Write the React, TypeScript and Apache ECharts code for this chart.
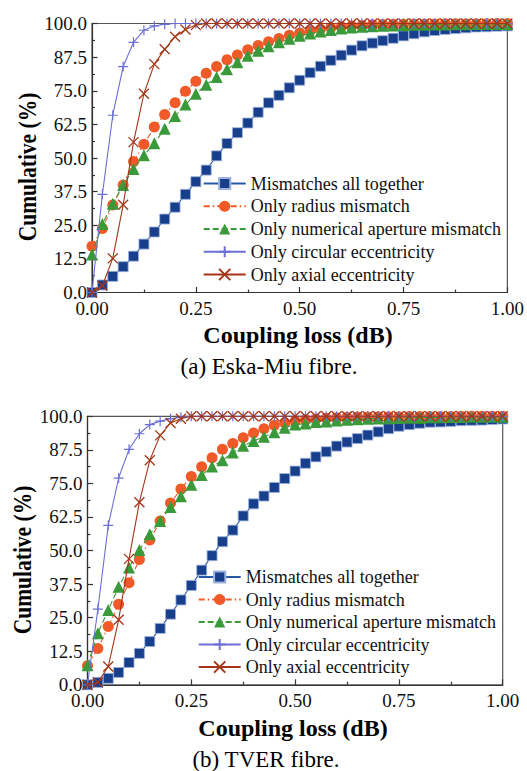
import React, { useEffect, useRef } from "react";
import * as echarts from "echarts";

const XS = [0, 0.025, 0.05, 0.075, 0.1, 0.125, 0.15, 0.175, 0.2, 0.225, 0.25, 0.275, 0.3, 0.325, 0.35, 0.375, 0.4, 0.425, 0.45, 0.475, 0.5, 0.525, 0.55, 0.575, 0.6, 0.625, 0.65, 0.675, 0.7, 0.725, 0.75, 0.775, 0.8, 0.825, 0.85, 0.875, 0.9, 0.925, 0.95, 0.975, 1.0];

const SERIES_NAMES = [
  "Mismatches all together",
  "Only radius mismatch",
  "Only numerical aperture mismatch",
  "Only circular eccentricity",
  "Only axial eccentricity",
];

const X_TICKS = [0, 0.25, 0.5, 0.75, 1.0];
const Y_TICKS = [0, 12.5, 25, 37.5, 50, 62.5, 75, 87.5, 100];

// (a) Eska-Miu fibre
const A_ALL = [0, 2.8, 6.0, 9.6, 13.5, 18.0, 22.5, 27.3, 31.7, 36.5, 41.2, 45.5, 50.8, 55.4, 59.4, 63.0, 67.0, 70.5, 73.3, 76.1, 78.9, 81.7, 84.1, 86.3, 88.2, 90.1, 91.7, 92.7, 93.6, 94.5, 95.4, 96.2, 96.9, 97.4, 97.8, 98.1, 98.4, 98.7, 98.8, 99.0, 99.1];
const A_RADIUS = [17.2, 23.8, 32.5, 40.0, 48.7, 55.1, 61.5, 66.2, 70.5, 74.8, 78.5, 81.5, 84.0, 86.5, 88.3, 90.2, 91.8, 93.2, 94.4, 95.6, 96.5, 97.3, 97.9, 98.4, 98.8, 99.1, 99.3, 99.5, 99.6, 99.7, 99.7, 99.8, 99.8, 99.8, 99.9, 99.9, 99.9, 99.9, 99.9, 100, 100];
const A_NA = [14.1, 25.5, 33.0, 40.0, 45.9, 51.0, 55.5, 60.9, 65.6, 69.9, 73.9, 77.2, 80.1, 83.0, 85.6, 88.0, 89.9, 91.5, 93.0, 94.3, 95.4, 96.3, 97.0, 97.6, 98.1, 98.5, 98.8, 99.0, 99.2, 99.3, 99.4, 99.5, 99.5, 99.6, 99.6, 99.7, 99.7, 99.8, 99.8, 99.8, 99.8];
const A_CIRC = [0, 36.5, 65.9, 84.0, 93.0, 97.5, 99.1, 99.7, 100, 100, 100, 100, 100, 100, 100, 100, 100, 100, 100, 100, 100, 100, 100, 100, 100, 100, 100, 100, 100, 100, 100, 100, 100, 100, 100, 100, 100, 100, 100, 100, 100];
const A_AXIAL = [0, 2.5, 12.7, 32.6, 55.9, 73.9, 84.9, 90.4, 95.1, 97.8, 99.4, 100, 100, 100, 100, 100, 100, 100, 100, 100, 100, 100, 100, 100, 100, 100, 100, 100, 100, 100, 100, 100, 100, 100, 100, 100, 100, 100, 100, 100, 100];

// (b) TVER fibre
const B_ALL = [0, 0.9, 2.4, 4.6, 8.3, 11.7, 16.1, 21.0, 26.3, 31.6, 37.0, 42.7, 48.1, 53.3, 57.6, 62.9, 67.4, 70.3, 73.5, 76.8, 79.6, 82.5, 84.9, 86.8, 88.9, 90.4, 91.7, 93.0, 94.2, 95.4, 96.3, 96.9, 97.4, 97.8, 97.9, 98.1, 98.4, 98.5, 98.6, 98.8, 99.0];
const B_RADIUS = [7.1, 13.5, 21.7, 30.0, 38.0, 46.7, 53.9, 61.0, 67.7, 72.9, 77.6, 81.2, 84.6, 87.7, 89.9, 92.0, 93.8, 95.4, 96.7, 97.5, 98.2, 98.7, 99.0, 99.3, 99.5, 99.6, 99.7, 99.7, 99.8, 99.8, 99.8, 99.9, 99.9, 99.9, 99.9, 99.9, 100, 100, 100, 100, 100];
const B_NA = [7.3, 19.2, 27.9, 36.5, 43.7, 50.2, 56.1, 61.0, 66.2, 70.2, 74.5, 78.1, 81.3, 83.6, 86.5, 89.0, 90.8, 92.4, 94.1, 95.7, 96.9, 97.3, 97.9, 98.1, 98.4, 98.7, 98.9, 99.1, 99.2, 99.3, 99.4, 99.5, 99.5, 99.6, 99.6, 99.7, 99.7, 99.8, 99.8, 99.8, 99.8];
const B_CIRC = [0, 28.2, 59.4, 77.0, 87.7, 93.5, 96.9, 98.2, 99.1, 99.6, 100, 100, 100, 100, 100, 100, 100, 100, 100, 100, 100, 100, 100, 100, 100, 100, 100, 100, 100, 100, 100, 100, 100, 100, 100, 100, 100, 100, 100, 100, 100];
const B_AXIAL = [0, 0.9, 6.8, 24.2, 46.9, 68.0, 83.6, 92.9, 97.5, 99.1, 100, 100, 100, 100, 100, 100, 100, 100, 100, 100, 100, 100, 100, 100, 100, 100, 100, 100, 100, 100, 100, 100, 100, 100, 100, 100, 100, 100, 100, 100, 100];

const FONT = '"Liberation Serif", "Times New Roman", serif';
const PLUS = "path://M5,0 L5,10 M0,5 L10,5";
const CROSS = "path://M0,0 L10,10 M10,0 L0,10";

const STYLES = [
  { color: "#173f8c", line: "#2a58a8", symbol: "rect", size: 10, type: "solid", border: "#9db2de", bw: 0.8 },
  { color: "#f05a28", line: "#f05a28", symbol: "circle", size: 11, type: [6, 3, 1.5, 3], border: "#f05a28", bw: 0 },
  { color: "#3a9a3a", line: "#3a9a3a", symbol: "triangle", size: 12, type: [6, 3], border: "#3a9a3a", bw: 0 },
  { color: "#6b70d6", line: "#6b70d6", symbol: PLUS, size: 10, type: "solid", border: "#6b70d6", bw: 1.2 },
  { color: "#a33518", line: "#a33518", symbol: CROSS, size: 10, type: "solid", border: "#a33518", bw: 1.3 },
];

function pairs(ys: number[]) {
  return ys.map((y, i) => [XS[i], y]);
}

function makeSeries(gridIdx: number, sets: number[][]) {
  return sets.map((ys, k) => {
    const s = STYLES[k];
    return {
      name: SERIES_NAMES[k],
      type: "line",
      xAxisIndex: gridIdx,
      yAxisIndex: gridIdx,
      data: pairs(ys),
      symbol: s.symbol,
      symbolSize: s.size,
      showAllSymbol: true,
      clip: true,
      lineStyle: { color: s.line, width: 1.1, type: s.type },
      itemStyle: { color: s.color, borderColor: s.border, borderWidth: s.bw },
      emphasis: { disabled: true },
      z: 2 + k,
    };
  });
}

function xAxisFor(gridIndex: number) {
  return {
    gridIndex,
    type: "value",
    min: X_TICKS[0],
    max: X_TICKS[X_TICKS.length - 1],
    interval: 0.25,
    axisLine: { show: true, onZero: false, lineStyle: { color: "#333", width: 1.2 } },
    axisTick: { show: true, inside: true, length: 5.5, lineStyle: { color: "#333", width: 1.2 } },
    minorTick: { show: true, splitNumber: 2, length: 3, lineStyle: { color: "#333", width: 1.2 } },
    axisLabel: { fontFamily: FONT, fontSize: 19, color: "#111", margin: 6, formatter: (v: number) => v.toFixed(2) },
    splitLine: { show: false },
  };
}

function yAxisFor(gridIndex: number) {
  return {
    gridIndex,
    type: "value",
    min: Y_TICKS[0],
    max: Y_TICKS[Y_TICKS.length - 1],
    interval: 12.5,
    axisLine: { show: true, onZero: false, lineStyle: { color: "#333", width: 1.2 } },
    axisTick: { show: true, inside: true, length: 5.5, lineStyle: { color: "#333", width: 1.2 } },
    minorTick: { show: true, splitNumber: 2, length: 3, lineStyle: { color: "#333", width: 1.2 } },
    axisLabel: { fontFamily: FONT, fontSize: 19, color: "#111", margin: 5, formatter: (v: number) => v.toFixed(1) },
    splitLine: { show: false },
  };
}

function legendFor(left: number, top: number, gap: number) {
  return {
    orient: "vertical",
    left,
    top,
    padding: 0,
    itemWidth: 42,
    itemHeight: 14,
    itemGap: gap,
    selectedMode: false,
    data: SERIES_NAMES,
    textStyle: { fontFamily: FONT, fontSize: 18, color: "#111" },
  };
}

function textEl(text: string, x: number, y: number, font: string, rotation = 0, scaleX = 1) {
  return {
    type: "text",
    x,
    y,
    rotation,
    scaleX,
    scaleY: 1,
    silent: true,
    style: {
      text,
      font,
      fill: "#000",
      align: "center",
      verticalAlign: "middle",
      textAlign: "center",
      textVerticalAlign: "middle",
    },
  };
}

export default function App() {
  const ref = useRef<HTMLDivElement>(null);
  useEffect(() => {
    if (!ref.current) return;
    const chart = echarts.init(ref.current, undefined, { renderer: "svg" });
    const option = {
      animation: false,
      backgroundColor: "#fff",
      textStyle: { fontFamily: FONT },
      grid: [
        { left: 92, top: 23.5, width: 417, height: 269, show: true, borderColor: "#555", borderWidth: 1.2, backgroundColor: "transparent" },
        { left: 87.5, top: 416.3, width: 415.2, height: 268.5, show: true, borderColor: "#555", borderWidth: 1.2, backgroundColor: "transparent" },
      ],
      xAxis: [xAxisFor(0), xAxisFor(1)],
      yAxis: [yAxisFor(0), yAxisFor(1)],
      legend: [legendFor(202.7, 174.5, 4.75), legendFor(197.7, 568, 4.5)],
      series: [
        ...makeSeries(0, [A_ALL, A_RADIUS, A_NA, A_CIRC, A_AXIAL]),
        ...makeSeries(1, [B_ALL, B_RADIUS, B_NA, B_CIRC, B_AXIAL]),
      ],
      graphic: [
        textEl("Cumulative (%)", 27, 167, `bold 25px ${FONT}`, Math.PI / 2, 0.86),
        textEl("Coupling loss (dB)", 298, 335, `bold 24px ${FONT}`),
        textEl("(a) Eska-Miu fibre.", 269, 366, `23px ${FONT}`),
        textEl("Cumulative (%)", 22.5, 560, `bold 25px ${FONT}`, Math.PI / 2, 0.86),
        textEl("Coupling loss (dB)", 293, 728, `bold 24px ${FONT}`),
        textEl("(b) TVER fibre.", 266, 759.5, `23px ${FONT}`),
      ],
    };
    chart.setOption(option as any);
    return () => chart.dispose();
  }, []);
  return <div ref={ref} style={{ position: "absolute", left: 0, top: 0, width: 527, height: 771 }} />;
}
